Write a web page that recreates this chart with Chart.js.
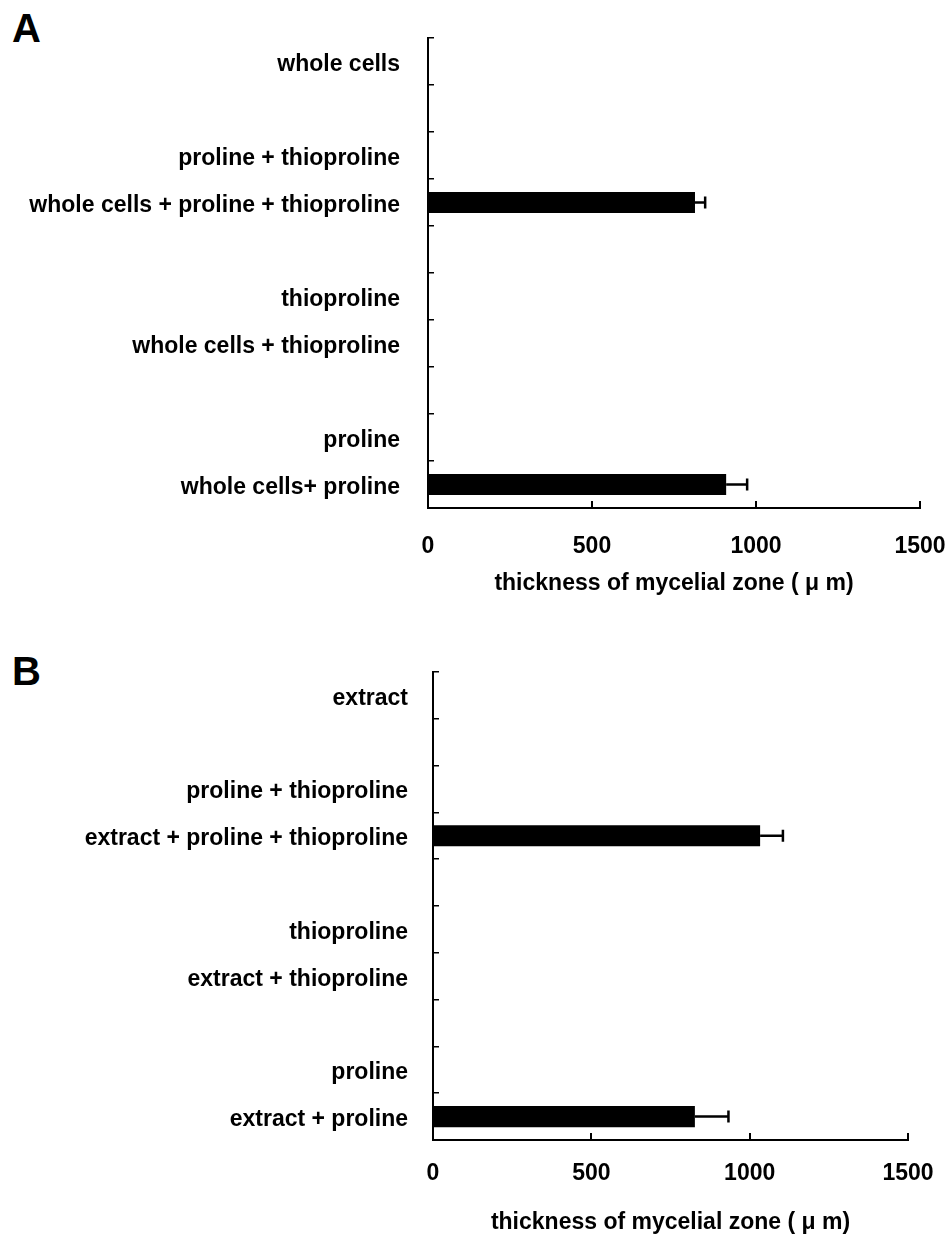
<!DOCTYPE html>
<html>
<head>
<meta charset="utf-8">
<script src="https://cdn.jsdelivr.net/npm/chart.js@4/dist/chart.umd.min.js"></script>
<style>
  body { margin: 0; background: #fff; width: 951px; height: 1236px; position: relative; overflow: hidden; }
  canvas { position: absolute; left: 0; }
  .panel { position: absolute; left: 12px; font: bold 40px "Liberation Sans", Arial, sans-serif; color: #000; }
</style>
</head>
<body>
<div class="panel" style="top: 6px;">A</div>
<div class="panel" style="top: 649px;">B</div>
<canvas id="chartA" width="951" height="620" style="top: 0;"></canvas>
<canvas id="chartB" width="951" height="616" style="top: 620px;"></canvas>
<script>
// panel A - whole cells
const labelsA = ['whole cells', '', 'proline + thioproline', 'whole cells + proline + thioproline', '',
  'thioproline', 'whole cells + thioproline', '', 'proline', 'whole cells+ proline'];
const valuesA = [0, null, 0, 814, null, 0, 0, null, 0, 909];
const errorsA = [0, null, 0, 31, null, 0, 0, null, 0, 64];

// panel B - extract
const labelsB = ['extract', '', 'proline + thioproline', 'extract + proline + thioproline', '',
  'thioproline', 'extract + thioproline', '', 'proline', 'extract + proline'];
const valuesB = [0, null, 0, 1033, null, 0, 0, null, 0, 827];
const errorsB = [0, null, 0, 72, null, 0, 0, null, 0, 106];

const xTicks = [0, 500, 1000, 1500];
const xTitle = 'thickness of mycelial zone ( \u03bc m)';

const FONT = '"Liberation Sans", Arial, sans-serif';

// one-sided error bars, drawn from the x scale
const errorBars = {
  id: 'errorBars',
  afterDatasetsDraw(chart, args, opts) {
    const ctx = chart.ctx;
    const xs = chart.scales.x;
    const vals = chart.data.datasets[0].data;
    const meta = chart.getDatasetMeta(0);
    ctx.save();
    ctx.strokeStyle = '#000';
    ctx.lineWidth = 2.5;
    meta.data.forEach((bar, i) => {
      const err = opts.errors[i];
      if (!err) return;
      const x0 = xs.getPixelForValue(vals[i]);
      const x1 = xs.getPixelForValue(vals[i] + err);
      ctx.beginPath();
      ctx.moveTo(x0, bar.y);
      ctx.lineTo(x1, bar.y);
      ctx.moveTo(x1, bar.y - 6);
      ctx.lineTo(x1, bar.y + 6);
      ctx.stroke();
    });
    ctx.restore();
  }
};

const makePanel = (id, labels, values, errors, g) => {
  const config = {
    type: 'bar',
    data: {
      labels: labels,
      datasets: [{
        data: values,
        backgroundColor: '#000',
        borderWidth: 0,
        categoryPercentage: 1,
        barPercentage: 0.45
      }]
    },
    options: {
      indexAxis: 'y',
      responsive: false,
      animation: false,
      devicePixelRatio: 1,
      layout: { padding: { top: g.top, right: g.right, left: 0, bottom: 0 } },
      plugins: {
        legend: { display: false },
        tooltip: { enabled: false },
        errorBars: { errors: errors }
      },
      scales: {
        x: {
          min: 0,
          max: 1500,
          afterBuildTicks: (scale) => { scale.ticks = xTicks.map(v => ({ value: v })); },
          grid: { drawOnChartArea: false, drawTicks: true, tickLength: -7, color: '#000', lineWidth: 2 },
          border: { display: true, color: '#000', width: 2 },
          ticks: {
            color: '#000', font: { family: FONT, size: 23, weight: 'bold' }, padding: g.xPad, maxRotation: 0,
            callback: (v) => String(v)
          },
          title: {
            display: true, text: xTitle, color: '#000',
            font: { family: FONT, size: 23, weight: 'bold' },
            padding: { top: 0, bottom: g.titlePad }
          },
          afterFit: (scale) => {
            scale.height = g.xHeight;
            scale.paddingLeft = 0;
            scale.paddingRight = 0;
          }
        },
        y: {
          grid: { drawOnChartArea: false, drawTicks: true, tickLength: -6, color: '#000', lineWidth: 1.5, offset: true },
          border: { display: true, color: '#000', width: 2 },
          ticks: {
            color: '#000', font: { family: FONT, size: 23, weight: 'bold' },
            padding: g.yPad, autoSkip: false, labelOffset: 3
          },
          afterFit: (scale) => {
            scale.width = g.yWidth;
            scale.paddingTop = 0;
            scale.paddingBottom = 0;
          }
        }
      }
    },
    plugins: [errorBars]
  };
  new Chart(document.getElementById(id), config);
};

makePanel('chartA', labelsA, valuesA, errorsA,
  { top: 38, right: 31, yWidth: 428, xHeight: 112, xPad: 32, yPad: 34, titlePad: 23 });
makePanel('chartB', labelsB, valuesB, errorsB,
  { top: 52, right: 43, yWidth: 433, xHeight: 96, xPad: 27, yPad: 31, titlePad: 0 });
</script>
</body>
</html>
